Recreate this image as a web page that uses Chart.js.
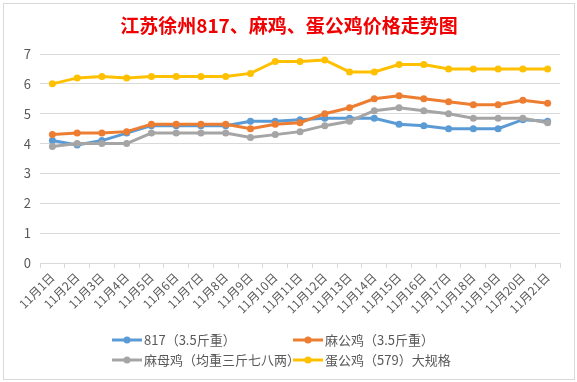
<!DOCTYPE html>
<html>
<head>
<meta charset="utf-8">
<script src="https://cdn.jsdelivr.net/npm/chart.js@4/dist/chart.umd.min.js"></script>
<style>
html,body{margin:0;padding:0;background:#fff;}
#wrap{position:relative;width:577px;height:382px;}
#frame{position:absolute;left:3px;top:3px;width:570px;height:375px;border:1px solid #D9D9D9;pointer-events:none;}
</style>
</head>
<body>
<div id="wrap">
<canvas id="c" width="577" height="382"></canvas>
<div id="frame"></div>
</div>
<script>
const titleText = '江苏徐州817、麻鸡、蛋公鸡价格走势图';
const categories = ['11月1日','11月2日','11月3日','11月4日','11月5日','11月6日','11月7日','11月8日','11月9日','11月10日','11月11日','11月12日','11月13日','11月14日','11月15日','11月16日','11月17日','11月18日','11月19日','11月20日','11月21日'];
const seriesNames = ['817（3.5斤重）','麻公鸡（3.5斤重）','麻母鸡（均重三斤七八两）','蛋公鸡（579）大规格'];
const s817 =      [4.1, 3.95, 4.1, 4.35, 4.6, 4.6, 4.6, 4.6, 4.75, 4.75, 4.8, 4.85, 4.85, 4.85, 4.65, 4.6, 4.5, 4.5, 4.5, 4.8, 4.75];
const sMaGong =   [4.3, 4.35, 4.35, 4.4, 4.65, 4.65, 4.65, 4.65, 4.5, 4.65, 4.7, 5.0, 5.2, 5.5, 5.6, 5.5, 5.4, 5.3, 5.3, 5.45, 5.35];
const sMaMu =     [3.9, 4.0, 4.0, 4.0, 4.35, 4.35, 4.35, 4.35, 4.2, 4.3, 4.4, 4.6, 4.75, 5.1, 5.2, 5.1, 5.0, 4.85, 4.85, 4.85, 4.7];
const sDanGong =  [6.0, 6.2, 6.25, 6.2, 6.25, 6.25, 6.25, 6.25, 6.35, 6.75, 6.75, 6.8, 6.4, 6.4, 6.65, 6.65, 6.5, 6.5, 6.5, 6.5, 6.5];
const yTicks = [0,1,2,3,4,5,6,7];

const colors = ['#5B9BD5','#ED7D31','#A5A5A5','#FFC000'];
const seriesData = [s817, sMaGong, sMaMu, sDanGong];

const datasets = seriesData.map((d,i)=>({
  label: seriesNames[i],
  data: d,
  borderColor: colors[i],
  backgroundColor: colors[i],
  borderWidth: 3,
  pointRadius: 3.5,
  pointBorderWidth: 0,
  pointHoverRadius: 3.5,
  tension: 0,
  fill: false,
  order: 4 - i
}));

const FONT = '"Microsoft YaHei","Noto Sans CJK SC","Noto Sans",sans-serif';

const titlePlugin = {
  id: 'customTitle',
  afterDraw(chart){
    const ctx = chart.ctx;
    ctx.save();
    ctx.font = 'bold 19px ' + FONT;
    ctx.fillStyle = '#F00000';
    ctx.textAlign = 'center';
    ctx.textBaseline = 'middle';
    ctx.fillText(titleText, 289, 26);
    ctx.restore();
  }
};

const legendPlugin = {
  id: 'customLegend',
  afterDraw(chart){
    const ctx = chart.ctx;
    const positions = [[112,340],[293,340],[112,360],[293,360]];
    ctx.save();
    ctx.font = '13px ' + FONT;
    ctx.textBaseline = 'middle';
    ctx.textAlign = 'left';
    chart.data.datasets.forEach((ds,i)=>{
      const [x,y] = positions[i];
      ctx.strokeStyle = ds.borderColor;
      ctx.lineWidth = 3;
      ctx.beginPath();
      ctx.moveTo(x,y);
      ctx.lineTo(x+30,y);
      ctx.stroke();
      ctx.fillStyle = ds.borderColor;
      ctx.beginPath();
      ctx.arc(x+15,y,3.5,0,Math.PI*2);
      ctx.fill();
      ctx.fillStyle = '#595959';
      ctx.fillText(ds.label, x+32, y);
    });
    ctx.restore();
  }
};

new Chart(document.getElementById('c'), {
  type: 'line',
  data: { labels: categories, datasets: datasets },
  options: {
    responsive: false,
    animation: false,
    events: [],
    layout: { padding: { left: 0, right: 17, top: 54, bottom: 0 } },
    plugins: {
      legend: { display: false },
      tooltip: { enabled: false },
      title: { display: false }
    },
    scales: {
      x: {
        offset: true,
        grid: { display: true, offset: true, drawOnChartArea: false, drawTicks: true, tickLength: 5, color: '#D9D9D9' },
        border: { display: true, color: '#D9D9D9', width: 1 },
        ticks: {
          color: '#595959',
          font: { family: FONT, size: 12 },
          minRotation: 45, maxRotation: 45,
          autoSkip: false,
          padding: 2
        },
        afterFit(scale){ scale.height = 119; }
      },
      y: {
        min: 0, max: 7,
        afterBuildTicks(scale){ scale.ticks = yTicks.map(v=>({value:v})); },
        grid: { color: '#D9D9D9', drawTicks: false, lineWidth: 1 },
        border: { display: false },
        ticks: {
          color: '#595959',
          font: { family: FONT, size: 13 },
          padding: 9
        },
        afterFit(scale){ scale.width = 40; }
      }
    }
  },
  plugins: [titlePlugin, legendPlugin]
});
</script>
</body>
</html>
